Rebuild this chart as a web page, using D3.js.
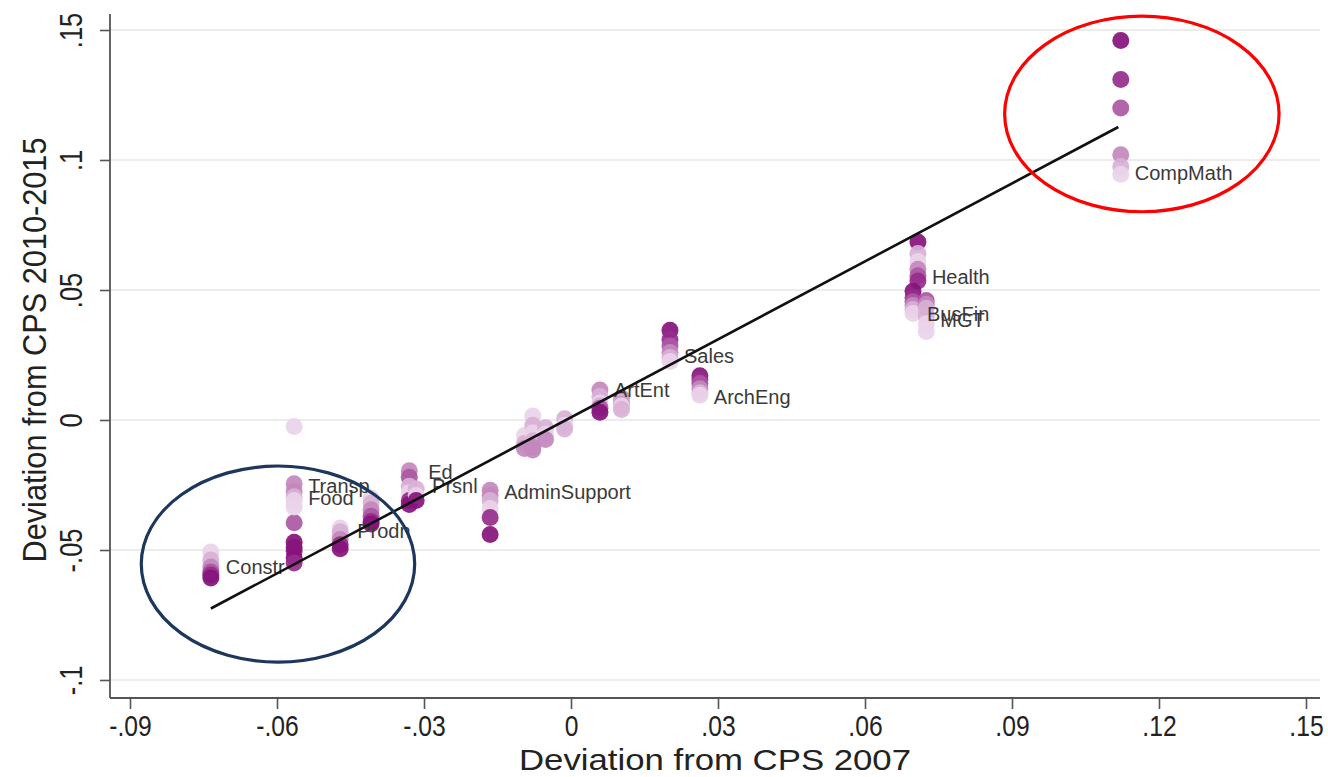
<!DOCTYPE html>
<html>
<head>
<meta charset="utf-8">
<script src="https://cdn.jsdelivr.net/npm/d3@7"></script>
<style>
  html, body { margin: 0; padding: 0; background: #fff; }
  svg { display: block; font-family: "Liberation Sans", Arial, sans-serif; }
</style>
</head>
<body>
<svg id="chart" width="1328" height="777"></svg>
<script>
// ---------- data ----------
const xTicks = [-0.09, -0.06, -0.03, 0, 0.03, 0.06, 0.09, 0.12, 0.15];
const xTickLabels = ["-.09", "-.06", "-.03", "0", ".03", ".06", ".09", ".12", ".15"];
const yTicks = [-0.1, -0.05, 0, 0.05, 0.1, 0.15];
const yTickLabels = ["-.1", "-.05", "0", ".05", ".1", ".15"];

// shades from darkest (0) to lightest (5)
const shadeColors = ["#85137c", "#962c8c", "#ab58a3", "#c388bd", "#d8b1d5", "#ead3e9"];

// occupation groups: x value, y values, shade index of each point
const groupX = [
  0.1122,   // CompMath
  0.0708,   // Health
  0.0698,   // BusFin
  0.0725,   // MGT
  0.0202,   // Sales
  0.0263,   // ArchEng
  0.0059,   // ArtEnt
  0.0103,   // (unlabeled)
  -0.0095,  // (unlabeled)
  -0.0078,  // (unlabeled)
  -0.0052,  // (unlabeled)
  -0.0013,  // (unlabeled)
  -0.0165,  // AdminSupport
  -0.0330,  // Ed
  -0.0316,  // Prsnl
  -0.0408,  // (unlabeled)
  -0.0471,  // Prodn
  -0.0565,  // Transp
  -0.0565,  // Food
  -0.0735   // Constr
];
const groupY = [
  [0.146, 0.131, 0.120, 0.102, 0.0975, 0.0945],
  [0.0685, 0.064, 0.061, 0.058, 0.0555, 0.0535],
  [0.0495, 0.047, 0.0455, 0.044, 0.0425, 0.041],
  [0.046, 0.0445, 0.043, 0.040, 0.037, 0.034],
  [0.0345, 0.031, 0.0285, 0.026, 0.024, 0.0225],
  [0.017, 0.0155, 0.014, 0.012, 0.0105, 0.0095],
  [0.0115, 0.009, 0.0065, 0.0055, 0.0045, 0.003],
  [0.0085, 0.007, 0.006, 0.0055, 0.004],
  [-0.006, -0.009, -0.011],
  [0.0015, -0.002, -0.005, -0.008, -0.0105, -0.0115],
  [-0.003, -0.0055, -0.0075],
  [0.0005, -0.002, -0.0035],
  [-0.027, -0.029, -0.031, -0.034, -0.0375, -0.044],
  [-0.0195, -0.022, -0.0255, -0.028, -0.031, -0.0325],
  [-0.0265, -0.029, -0.031],
  [-0.030, -0.032, -0.0345, -0.037, -0.039, -0.040],
  [-0.0415, -0.043, -0.0445, -0.046, -0.048, -0.0495],
  [-0.0245, -0.0275, -0.0395, -0.047, -0.0505, -0.053],
  [-0.0025, -0.0295, -0.031, -0.0335, -0.049, -0.055],
  [-0.0508, -0.0538, -0.0565, -0.0585, -0.0596, -0.0608]
];
const groupShade = [
  [0, 1, 2, 3, 4, 5],
  [0, 4, 5, 3, 2, 1],
  [0, 1, 2, 3, 4, 5],
  [2, 3, 4, 4, 5, 5],
  [0, 1, 2, 3, 4, 5],
  [0, 1, 2, 3, 4, 5],
  [3, 4, 5, 4, 2, 0],
  [3, 4, 3, 5, 4],
  [5, 4, 3],
  [5, 4, 5, 4, 3, 3],
  [4, 5, 3],
  [4, 5, 4],
  [3, 3, 4, 5, 1, 0],
  [3, 2, 4, 5, 1, 0],
  [4, 5, 0],
  [5, 4, 3, 2, 1, 0],
  [5, 4, 4, 3, 1, 0],
  [3, 3, 2, 0, 1, 0],
  [5, 4, 5, 5, 0, 1],
  [5, 4, 3, 2, 1, 0]
];

// marker labels
const labelText = ["CompMath", "Health", "BusFin", "MGT", "Sales", "ArchEng", "ArtEnt",
  "AdminSupport", "Ed", "Prsnl", "Transp", "Food", "Prodn", "Constr"];
const labelX = [0.1122, 0.0708, 0.0698, 0.0725, 0.0202, 0.0263, 0.0059,
  -0.0165, -0.0320, -0.0312, -0.0565, -0.0565, -0.0465, -0.0733];
const labelY = [0.095, 0.055, 0.0408, 0.0385, 0.0246, 0.0088, 0.0115,
  -0.0277, -0.0200, -0.0254, -0.0254, -0.0300, -0.0427, -0.0565];

// linear fit line endpoints
const fitX = [-0.0735, 0.1117];
const fitY = [-0.0725, 0.1127];

// highlight ellipses: centre and radii in data units
const ellipseCx = [0.1165, -0.0598];
const ellipseCy = [0.1177, -0.0554];
const ellipseRx = [0.0280, 0.0279];
const ellipseRy = [0.0376, 0.0377];
const ellipseColor = ["#ff0000", "#1c365c"];

// ---------- chart ----------
const svg = d3.select("#chart");
const plotLeft = 110, plotRight = 1320, plotTop = 14, plotBottom = 698;

const x = d3.scaleLinear().domain([-0.09, 0.15]).range([130, 1306]);
const y = d3.scaleLinear().domain([-0.1, 0.15]).range([680, 30]);

// gridlines
svg.append("g").selectAll("line").data(yTicks).join("line")
  .attr("x1", plotLeft).attr("x2", plotRight)
  .attr("y1", d => y(d)).attr("y2", d => y(d))
  .attr("stroke", "#ececec").attr("stroke-width", 2);

// axes
const xAxis = svg.append("g").attr("transform", `translate(0,${plotBottom})`)
  .call(d3.axisBottom(x).tickValues(xTicks).tickFormat((d, i) => xTickLabels[i])
    .tickSize(11).tickSizeOuter(0).tickPadding(6));
xAxis.select(".domain").attr("d", `M${plotLeft},0H${plotRight}`);
xAxis.selectAll("line").attr("stroke", "#555").attr("stroke-width", 1.6);
xAxis.select(".domain").attr("stroke", "#555").attr("stroke-width", 1.8);
xAxis.selectAll("text").attr("font-size", 29).attr("fill", "#222")
  .attr("transform", "scale(0.85,1)")
  .attr("font-family", "Liberation Sans, Arial, sans-serif");

const yAxis = svg.append("g").attr("transform", `translate(${plotLeft},0)`)
  .call(d3.axisLeft(y).tickValues(yTicks).tickFormat((d, i) => yTickLabels[i])
    .tickSize(10).tickSizeOuter(0));
yAxis.select(".domain").attr("d", `M0,${plotTop}V${plotBottom}`)
  .attr("stroke", "#555").attr("stroke-width", 1.8);
yAxis.selectAll("line").attr("stroke", "#555").attr("stroke-width", 1.6);
yAxis.selectAll("text")
  .attr("x", null).attr("dy", null)
  .attr("text-anchor", "middle")
  .attr("transform", "translate(-28,0) rotate(-90) scale(0.82,1)")
  .attr("font-size", 31).attr("fill", "#222")
  .attr("font-family", "Liberation Sans, Arial, sans-serif");

// axis titles
svg.append("text")
  .attr("x", (plotLeft + plotRight) / 2).attr("y", 770)
  .attr("text-anchor", "middle").attr("font-size", 29).attr("fill", "#222")
  .attr("textLength", 392).attr("lengthAdjust", "spacingAndGlyphs")
  .text("Deviation from CPS 2007");
svg.append("text")
  .attr("transform", `translate(46,${(plotTop + plotBottom) / 2 - 6}) rotate(-90)`)
  .attr("text-anchor", "middle").attr("font-size", 34).attr("fill", "#222")
  .attr("textLength", 425).attr("lengthAdjust", "spacingAndGlyphs")
  .text("Deviation from CPS 2010-2015");

// points
const points = [];
groupX.forEach((gx, gi) => {
  groupY[gi].forEach((gy, pi) => points.push({ x: gx, y: gy, s: groupShade[gi][pi] }));
});
svg.append("g").selectAll("circle").data(points).join("circle")
  .attr("cx", d => x(d.x)).attr("cy", d => y(d.y)).attr("r", 8.5)
  .attr("fill", d => shadeColors[d.s]).attr("fill-opacity", 0.92);

// labels
svg.append("g").selectAll("text").data(labelText).join("text")
  .attr("x", (d, i) => x(labelX[i]) + 14)
  .attr("y", (d, i) => y(labelY[i]) + 7)
  .attr("font-size", 20).attr("fill", "#3a3a3a")
  .text(d => d);

// fit line
svg.append("line")
  .attr("x1", x(fitX[0])).attr("y1", y(fitY[0]))
  .attr("x2", x(fitX[1])).attr("y2", y(fitY[1]))
  .attr("stroke", "#111").attr("stroke-width", 2.6);

// ellipses
svg.append("g").selectAll("ellipse").data(ellipseCx).join("ellipse")
  .attr("cx", d => x(d))
  .attr("cy", (d, i) => y(ellipseCy[i]))
  .attr("rx", (d, i) => x(ellipseRx[i]) - x(0))
  .attr("ry", (d, i) => y(0) - y(ellipseRy[i]))
  .attr("fill", "none")
  .attr("stroke", (d, i) => ellipseColor[i])
  .attr("stroke-width", 3.2);
</script>
</body>
</html>
